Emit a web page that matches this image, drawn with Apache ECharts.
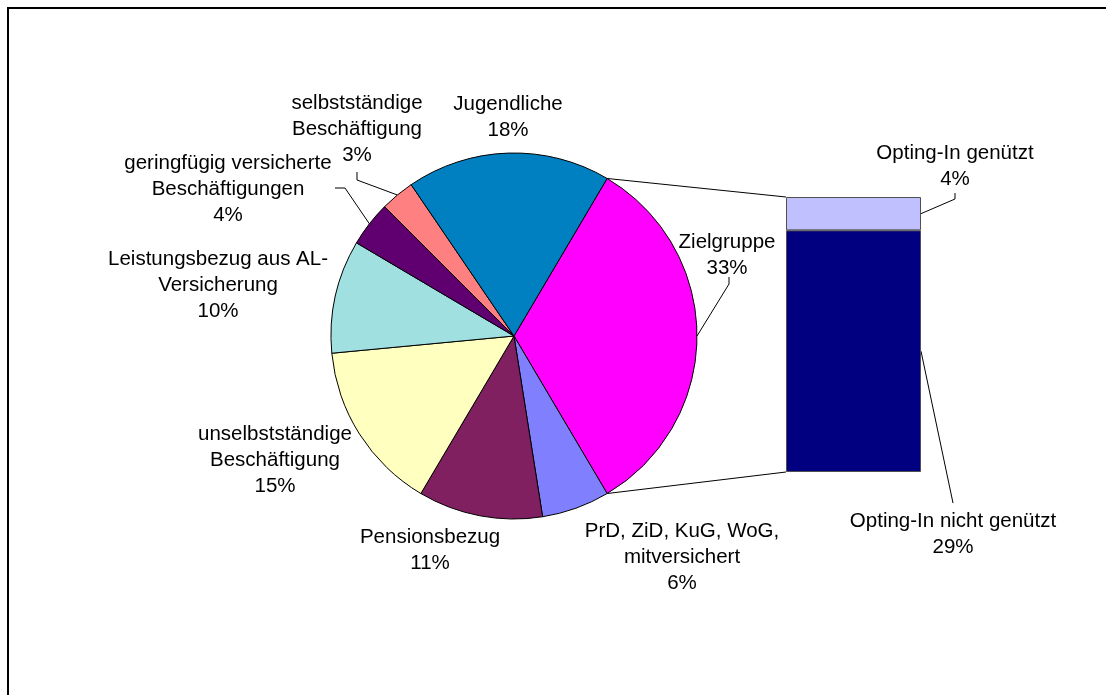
<!DOCTYPE html>
<html><head><meta charset="utf-8">
<script src="https://cdn.jsdelivr.net/npm/echarts@6/dist/echarts.min.js"></script>
<style>html,body{margin:0;padding:0;background:#fff}#c{width:1106px;height:695px}</style>
</head><body><div id="c"></div>
<script>
// ---- data ----
const pieNames = ['Zielgruppe', 'PrD, ZiD, KuG, WoG,\nmitversichert', 'Pensionsbezug',
  'unselbstständige\nBeschäftigung', 'Leistungsbezug aus AL-\nVersicherung',
  'geringfügig versicherte\nBeschäftigungen', 'selbstständige\nBeschäftigung', 'Jugendliche'];
const pieValues = [33, 6, 11, 15, 10, 4, 3, 18];
const barNames = ['Opting-In nicht genützt', 'Opting-In genützt'];
const barValues = [29, 4];

// ---- styles / layout ----
const pieColors = ['#FF00FF', '#8080FF', '#802060', '#FFFFC0', '#A0E0E0', '#600070', '#FF8080', '#0080C0'];
const barColors = ['#000080', '#C0C0FF'];
const pieCenter = [514, 336];
const pieR = 183;
const pieLabelPos = [[727, 255], [682, 557], [430, 550], [275, 460], [218, 285], [228, 189], [357, 129], [508, 117]];
const barLabelPos = [[953, 534], [955, 166]];
// leader line points on label side (pie index -> points)
const pieLeaderStart = { 0: [[729, 277], [729, 284]], 5: [[335, 188], [345, 188]], 6: [[357, 172], [357, 180]] };
const barLeaderStart = { 0: [[953, 503]], 1: [[955, 193], [955, 199]] };
const gridBox = { left: 786, top: 197, width: 135, height: 275 };

const txt = { color: '#000', fontFamily: 'Liberation Sans, Arial, sans-serif', fontSize: 20.5, lineHeight: 26 };
const chart = echarts.init(document.getElementById('c'), null, { renderer: 'canvas' });
const pieSum = pieValues.reduce((a, b) => a + b, 0);
const barSum = barValues.reduce((a, b) => a + b, 0);
const startAngle = pieValues[0] / pieSum * 180;

const barSeries = barValues.map((v, i) => ({
  type: 'bar', name: barNames[i], stack: 'opt', barWidth: '100%',
  data: [v],
  itemStyle: { color: barColors[i], borderColor: '#505050', borderWidth: 1 },
  label: Object.assign({ show: true, position: 'inside', formatter: p => p.seriesName + '\n' + p.value + '%' }, txt),
  labelLayout: () => ({ x: barLabelPos[i][0], y: barLabelPos[i][1], align: 'center', verticalAlign: 'middle' }),
  emphasis: { disabled: true }, silent: true
}));

chart.setOption({
  animation: false,
  grid: gridBox,
  xAxis: { type: 'category', data: ['Zielgruppe'], show: false },
  yAxis: { type: 'value', min: 0, max: barSum, show: false },
  series: [{
    type: 'pie', center: pieCenter, radius: pieR, startAngle: startAngle, clockwise: true,
    avoidLabelOverlap: false,
    data: pieNames.map((n, i) => ({ name: n, value: pieValues[i], itemStyle: { color: pieColors[i] } })),
    itemStyle: { borderColor: '#000', borderWidth: 1 },
    label: Object.assign({ show: true, position: 'outside', align: 'center', formatter: p => p.name + '\n' + p.value + '%' }, txt),
    labelLine: { show: false },
    labelLayout: p => ({ x: pieLabelPos[p.dataIndex][0], y: pieLabelPos[p.dataIndex][1], align: 'center', verticalAlign: 'middle' }),
    emphasis: { disabled: true }, silent: true
  }].concat(barSeries)
});

// ---- derived geometry: connectors and leader lines ----
function piePoint(angleDeg) {
  const a = angleDeg * Math.PI / 180;
  return [pieCenter[0] + pieR * Math.cos(a), pieCenter[1] - pieR * Math.sin(a)];
}
const graphics = [];
const lineStyle = { stroke: '#000', lineWidth: 1, fill: null };
let cum = 0;
pieValues.forEach((v, i) => {
  const mid = startAngle - (cum + v / 2) / pieSum * 360;
  cum += v;
  if (pieLeaderStart[i]) {
    graphics.push({ type: 'polyline', shape: { points: pieLeaderStart[i].concat([piePoint(mid)]) }, style: lineStyle, silent: true });
  }
});
const topPx = chart.convertToPixel({ gridIndex: 0 }, ['Zielgruppe', barSum]);
const botPx = chart.convertToPixel({ gridIndex: 0 }, ['Zielgruppe', 0]);
const barLeft = topPx[0] - gridBox.width / 2;
const barRight = topPx[0] + gridBox.width / 2;
graphics.push({ type: 'polyline', shape: { points: [piePoint(startAngle), [barLeft, topPx[1]]] }, style: lineStyle, silent: true });
graphics.push({ type: 'polyline', shape: { points: [piePoint(-startAngle), [barLeft, botPx[1]]] }, style: lineStyle, silent: true });
let bcum = 0;
barValues.forEach((v, i) => {
  const midPx = chart.convertToPixel({ gridIndex: 0 }, ['Zielgruppe', bcum + v / 2]);
  bcum += v;
  graphics.push({ type: 'polyline', shape: { points: barLeaderStart[i].concat([[barRight, midPx[1]]]) }, style: lineStyle, silent: true });
});
// outer frame (top and left visible)
graphics.push({ type: 'rect', shape: { x: 8, y: 8, width: 1120, height: 720 }, style: { stroke: '#000', lineWidth: 2, fill: null }, silent: true });
chart.setOption({ graphic: graphics });
</script>
</body></html>
